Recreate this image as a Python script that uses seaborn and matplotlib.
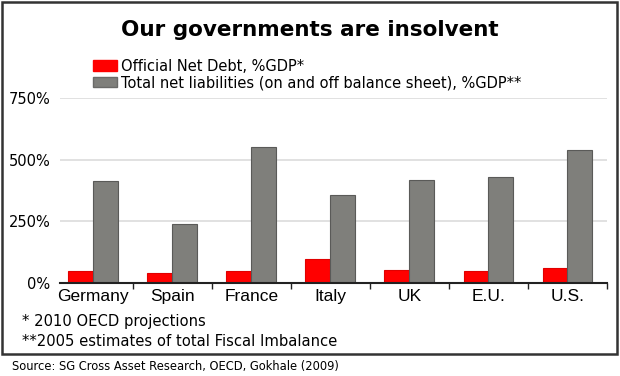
import pandas as pd
import seaborn as sns
import matplotlib.pyplot as plt
from matplotlib.patches import Patch, Rectangle
from matplotlib.ticker import FixedLocator

countries = ["Germany", "Spain", "France", "Italy", "UK", "E.U.", "U.S."]
official_net_debt = [50, 40, 50, 99, 53, 49, 62]
total_net_liabilities = [415, 240, 550, 359, 420, 430, 539]
series_names = ["Official Net Debt, %GDP*",
                "Total net liabilities (on and off balance sheet), %GDP**"]
y_ticks = [0, 250, 500, 750]

df = pd.DataFrame({
    "country": countries * 2,
    "value": official_net_debt + total_net_liabilities,
    "series": [series_names[0]] * len(countries) + [series_names[1]] * len(countries),
})

sns.set_style("white")
plt.rcParams["font.family"] = ["DejaVu Sans"]
plt.rcParams["text.color"] = "black"
plt.rcParams["xtick.color"] = "black"
plt.rcParams["ytick.color"] = "black"

red = "#ff0000"
grey = "#7f7f7b"

fig = plt.figure(figsize=(6.2, 3.76), dpi=100)
ax = fig.add_axes([0.0968, 0.247, 0.8822, 0.492])

sns.barplot(data=df, x="country", y="value", hue="series", palette=[red, grey],
            width=0.63, ax=ax, legend=False, saturation=1)
for bar in ax.patches:
    fc = bar.get_facecolor()
    bar.set_edgecolor("#5a5a58" if fc[0] < 0.9 else "#e00000")
    bar.set_linewidth(0.8)

ax.set_ylim(0, 750)
ax.set_xlim(-0.42, len(countries) - 0.5)
ax.set_yticks(y_ticks)
ax.set_yticklabels([f"{v}%" for v in y_ticks], fontsize=10.5)
ax.yaxis.grid(True, color="#dcdcdc", linewidth=1.2)
ax.set_axisbelow(True)
ax.tick_params(axis="y", length=0, pad=7)
ax.tick_params(axis="x", length=0, pad=4)
ax.set_xticks(range(len(countries)))
ax.set_xticklabels(countries, fontsize=12.5, family=["Liberation Sans", "DejaVu Sans"])
ax.xaxis.set_minor_locator(FixedLocator([i + 0.5 for i in range(len(countries))]))
ax.tick_params(axis="x", which="minor", bottom=True, length=4, width=1,
               color="#222222", direction="out")
ax.set_xlabel("")
ax.set_ylabel("")
for s in ["top", "right", "left"]:
    ax.spines[s].set_visible(False)
ax.spines["bottom"].set_color("#222222")
ax.spines["bottom"].set_linewidth(1.5)

fig.text(0.5, 0.92, "Our governments are insolvent", ha="center", va="center",
         fontsize=15.5, fontweight="bold")

handles = [Patch(facecolor=red, edgecolor=red), Patch(facecolor=grey, edgecolor="#6a6a68")]
fig.legend(handles, series_names, loc="upper left", bbox_to_anchor=(0.150, 0.844),
           frameon=False, fontsize=10.5, handlelength=1.65, handleheight=0.7,
           handletextpad=0.27, labelspacing=0.1, borderpad=0, borderaxespad=0)

fig.text(0.035, 0.144, "* 2010 OECD projections", fontsize=10.6, va="center")
fig.text(0.035, 0.093, "**2005 estimates of total Fiscal Imbalance", fontsize=10.6, va="center")
fig.text(0.019, 0.024, "Source: SG Cross Asset Research, OECD, Gokhale (2009)",
         fontsize=8.3, va="center")

fig.patches.append(Rectangle((0.004, 0.0585), 0.991, 0.937, transform=fig.transFigure,
                             fill=False, edgecolor="#333333", linewidth=1.8))

fig.savefig("out.png", dpi=100)
